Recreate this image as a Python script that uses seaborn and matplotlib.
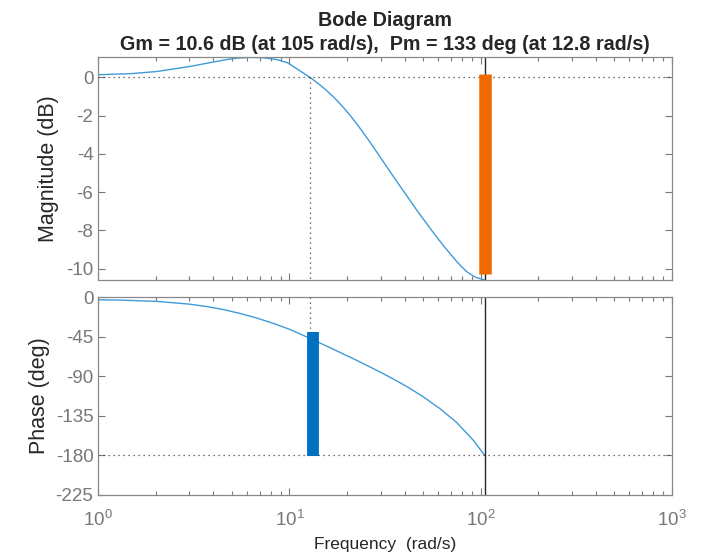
import matplotlib
matplotlib.use('Agg')
import matplotlib.pyplot as plt
import seaborn as sns
from matplotlib.ticker import LogLocator, LogFormatterMathtext, NullFormatter, FixedLocator

sns.set_style('ticks')
plt.rcParams['font.family'] = ['Liberation Sans', 'DejaVu Sans']
plt.rcParams['mathtext.fontset'] = 'custom'
plt.rcParams['mathtext.rm'] = 'Liberation Sans'
plt.rcParams['axes.unicode_minus'] = False

# magnitude curve
mag_freq = [1, 1.5, 2.03, 3.0, 4.5, 5.3, 6.2, 7.3, 8.6, 9.8, 10.9, 12.8, 13.9, 15.3,
            17.0, 18.8, 20.8, 22.9, 25.4, 28.0, 30.9, 34.2, 37.9, 41.8, 46.3, 51.2,
            56.6, 62.6, 69.2, 76.5, 84.5, 93.6, 105]
mag_db = [0.14, 0.2, 0.31, 0.57, 0.9, 1.01, 1.05, 1.03, 0.93, 0.76, 0.46, 0.0, -0.26, -0.6,
          -1.02, -1.48, -1.99, -2.53, -3.15, -3.76, -4.39, -5.04, -5.69, -6.3, -6.94, -7.53,
          -8.12, -8.69, -9.22, -9.73, -10.16, -10.45, -10.6]

# phase curve
ph_freq = [1, 1.35, 2.03, 3.0, 3.69, 4.5, 5.53, 6.75, 8.25, 10.1, 12.8, 15.1, 18.4,
           22.5, 27.5, 33.5, 41.1, 50, 61.4, 74.9, 91.8, 105]
ph_deg = [-3.1, -3.6, -5.0, -8.1, -10.8, -14.2, -18.7, -23.9, -30, -37, -47, -54.2, -63,
          -72, -81.4, -91, -101.7, -113.2, -127, -142.5, -163, -180]

# margins
gm_freq = 105
pm_freq = 12.8
pm_phase = -47
gm_bar = [0.17, -10.3]      # orange bar extent (dB)
pm_bar_freq = 13.3
pm_bar = [-180.5, -40]      # blue bar extent (deg)

mag_ticks = [0, -2, -4, -6, -8, -10]
ph_ticks = [0, -45, -90, -135, -180, -225]

title = 'Bode Diagram\nGm = 10.6 dB (at 105 rad/s),  Pm = 133 deg (at 12.8 rad/s)'

line_c = '#3f9bd9'
grey = '#777777'
dot_c = '#444444'
dots = (0, (1, 3))

fig = plt.figure(figsize=(7.05, 5.53), dpi=100)
ax1 = fig.add_axes([0.1394, 0.4937, 0.8134, 0.4033])
ax2 = fig.add_axes([0.1394, 0.1049, 0.8134, 0.3580])

for ax in (ax1, ax2):
    ax.set_xscale('log')
    ax.set_xlim(1, 1000)
    ax.xaxis.set_major_locator(LogLocator(base=10))
    ax.xaxis.set_minor_locator(LogLocator(base=10, subs=range(2, 10), numticks=20))
    ax.xaxis.set_minor_formatter(NullFormatter())
    ax.tick_params(which='both', direction='in', top=True, right=True,
                   colors=grey, labelsize=13.5, width=0.8)
    ax.tick_params(which='major', length=5)
    ax.tick_params(which='minor', length=3)
    for s in ax.spines.values():
        s.set_color('#888888')
        s.set_linewidth(0.9)

# magnitude
sns.lineplot(x=mag_freq, y=mag_db, ax=ax1, color=line_c, lw=1, sort=False)
ax1.set_ylim(-10.6, 1.07)
ax1.yaxis.set_major_locator(FixedLocator(mag_ticks))
ax1.tick_params(labelbottom=False)
ax1.axhline(0, color=dot_c, lw=0.9, ls=dots)
ax1.plot([pm_freq, pm_freq], [0, -10.6], color=dot_c, lw=0.9, ls=dots)
ax1.axvline(gm_freq, color='#262626', lw=1)
ax1.plot([gm_freq, gm_freq], gm_bar, color='#ee6a00', lw=9, solid_capstyle='butt')
ax1.set_ylabel('Magnitude (dB)', fontsize=15.5, color='#262626', labelpad=5)
ax1.set_title(title, fontsize=14.2, fontweight='bold', linespacing=1.35, pad=5)

# phase
sns.lineplot(x=ph_freq, y=ph_deg, ax=ax2, color=line_c, lw=1, sort=False)
ax2.set_ylim(-225, 0)
ax2.yaxis.set_major_locator(FixedLocator(ph_ticks))
ax2.xaxis.set_major_formatter(LogFormatterMathtext())
ax2.tick_params(axis='x', which='major', pad=11)
ax2.axhline(-180, color=dot_c, lw=0.9, ls=dots)
ax2.plot([pm_freq, pm_freq], [0, pm_phase], color=dot_c, lw=0.9, ls=dots)
ax2.axvline(gm_freq, color='#262626', lw=1)
ax2.plot([pm_bar_freq, pm_bar_freq], pm_bar, color='#0070c0', lw=8.5, solid_capstyle='butt')
ax2.set_ylabel('Phase (deg)', fontsize=15.5, color='#262626', labelpad=4)
ax2.set_xlabel('Frequency  (rad/s)', fontsize=12.5, color='#262626', labelpad=5)

fig.savefig('out.png', dpi=100)
